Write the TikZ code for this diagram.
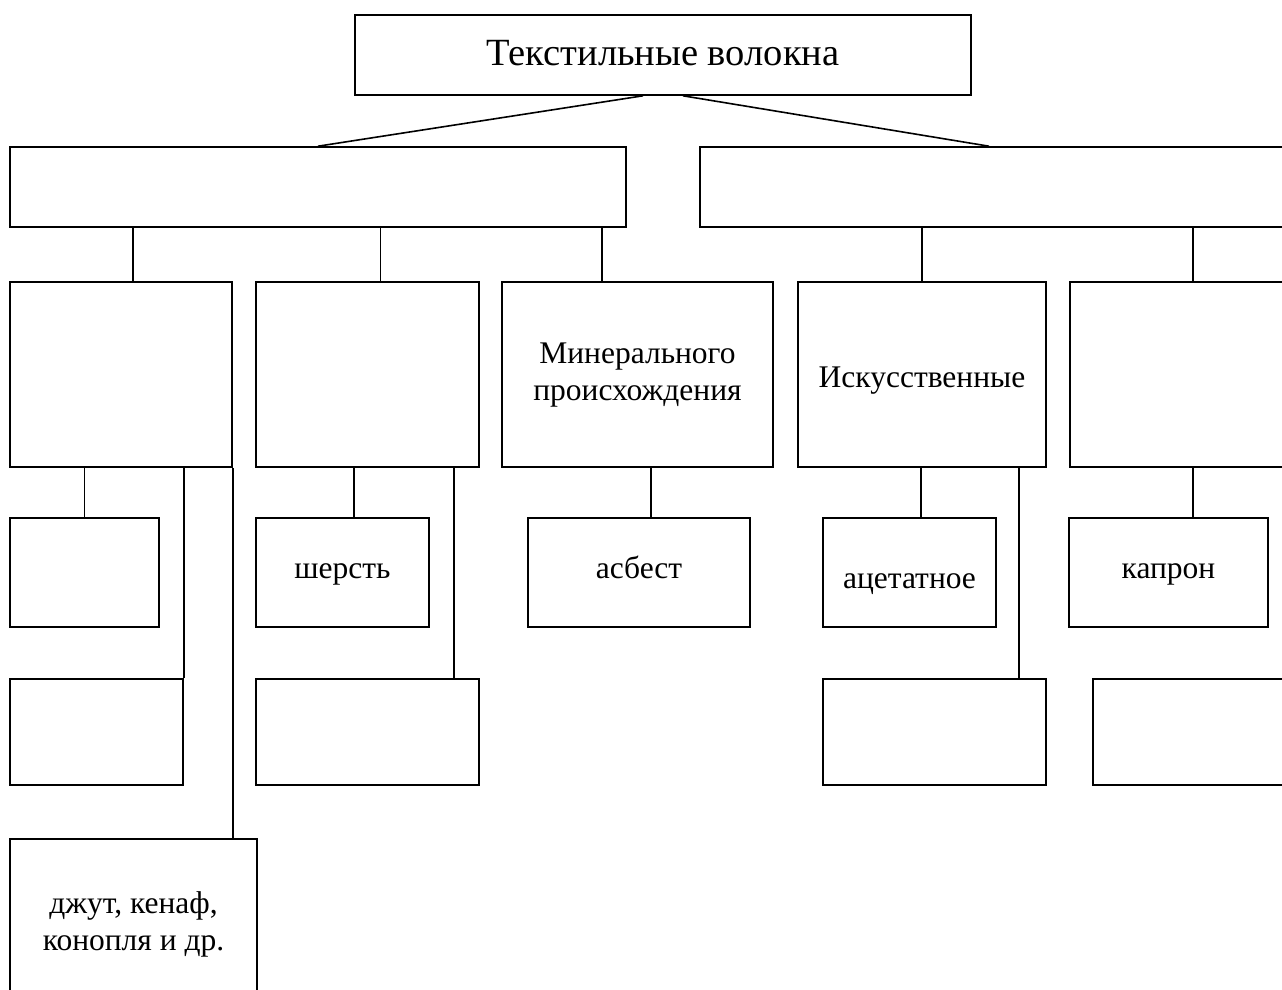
\documentclass[tikz,border=0pt]{standalone}
\usepackage{fontspec}
\setmainfont{Liberation Serif}
\tikzset{
  box/.style={draw, line width=1.6pt, inner sep=0pt, align=center, font=\fontsize{31.5}{37}\selectfont},
  link/.style={line width=1.6pt},
}
% box by corners: name, x1, y1, x2, y2, text
\newcommand\bx[6]{\node[box, minimum width={#4-#2}, minimum height={#5-#3}] (#1) at ({(#2+#4)/2},{(#3+#5)/2}) {#6};}
% text whose baseline lies #1 above the box centre
\newcommand\lbl[2]{\raisebox{#1}[0pt][0pt]{#2}}
\newcommand\two[2]{\begin{tabular}[b]{@{}c@{}}#1\\#2\end{tabular}}
\begin{document}
\begin{tikzpicture}[x=1pt,y=-1pt]
\clip (0,0) rectangle (1282,990);
\fill[white] (0,0) rectangle (1282,990);
% top
\node[box, minimum width=616, minimum height=80, font=\fontsize{38.5}{44}\selectfont] (T) at (663,55) {\lbl{-11pt}{Текстильные волокна}};
% level 1
\bx{L}{10}{147}{626}{227}{}
\bx{R}{700}{147}{1300}{227}{}
% level 2
\bx{A}{10}{282}{232}{467}{}
\bx{B}{256}{282}{479}{467}{}
\bx{C}{502}{282}{773}{467}{\lbl{-25.5pt}{\two{Минерального}{происхождения}}}
\bx{D}{798}{282}{1046}{467}{\lbl{-12.5pt}{Искусственные}}
\bx{E}{1070}{282}{1300}{467}{}
% level 3
\bx{A1}{10}{518}{159}{627}{}
\bx{B1}{256}{518}{429}{627}{\lbl{-5.5pt}{шерсть}}
\bx{C1}{528}{518}{750}{627}{\lbl{-5.5pt}{асбест}}
\bx{D1}{823}{518}{996}{627}{\lbl{-15.5pt}{ацетатное}}
\bx{E1}{1069}{518}{1268}{627}{\lbl{-5.5pt}{капрон}}
% level 4
\bx{A2}{10}{679}{183}{785}{}
\bx{B2}{256}{679}{479}{785}{}
\bx{D2}{823}{679}{1046}{785}{}
\bx{E2}{1093}{679}{1300}{785}{}
% level 5
\bx{A3}{10}{839}{257}{1010}{\lbl{-25.5pt}{\two{джут, кенаф,}{конопля и др.}}}
% connectors top
\draw[link] ([xshift=-20pt]T.south) -- (L.north);
\draw[link] ([xshift=20pt]T.south) -- ([xshift=-11pt]R.north);
% L children
\draw[link] ([xshift=12pt]A.north) -- ([xshift=12pt]A.north |- L.south);
\draw[link] ([xshift=13pt]B.north) -- ([xshift=13pt]B.north |- L.south);
\draw[link] ([xshift=-35.5pt]C.north) -- ([xshift=-35.5pt]C.north |- L.south);
% R children
\draw[link] (D.north) -- (D.north |- R.south);
\draw[link] ([xshift=8pt]E.north) -- ([xshift=8pt]E.north |- R.south);
% A children
\draw[link] (A1.north) -- (A1.north |- A.south);
\draw[link] (A2.north east) -- (A2.north east |- A.south);
\draw[link] (A.south east) -- (A.south east |- A3.north);
% B children
\draw[link] ([xshift=11.5pt]B1.north) -- ([xshift=11.5pt]B1.north |- B.south);
\draw[link] ([xshift=86.5pt]B2.north) -- ([xshift=86.5pt]B2.north |- B.south);
% C child
\draw[link] ([xshift=12pt]C1.north) -- ([xshift=12pt]C1.north |- C.south);
% D children
\draw[link] ([xshift=11.5pt]D1.north) -- ([xshift=11.5pt]D1.north |- D.south);
\draw[link] ([xshift=84.5pt]D2.north) -- ([xshift=84.5pt]D2.north |- D.south);
% E child
\draw[link] ([xshift=24.5pt]E1.north) -- ([xshift=24.5pt]E1.north |- E.south);
\end{tikzpicture}
\end{document}
